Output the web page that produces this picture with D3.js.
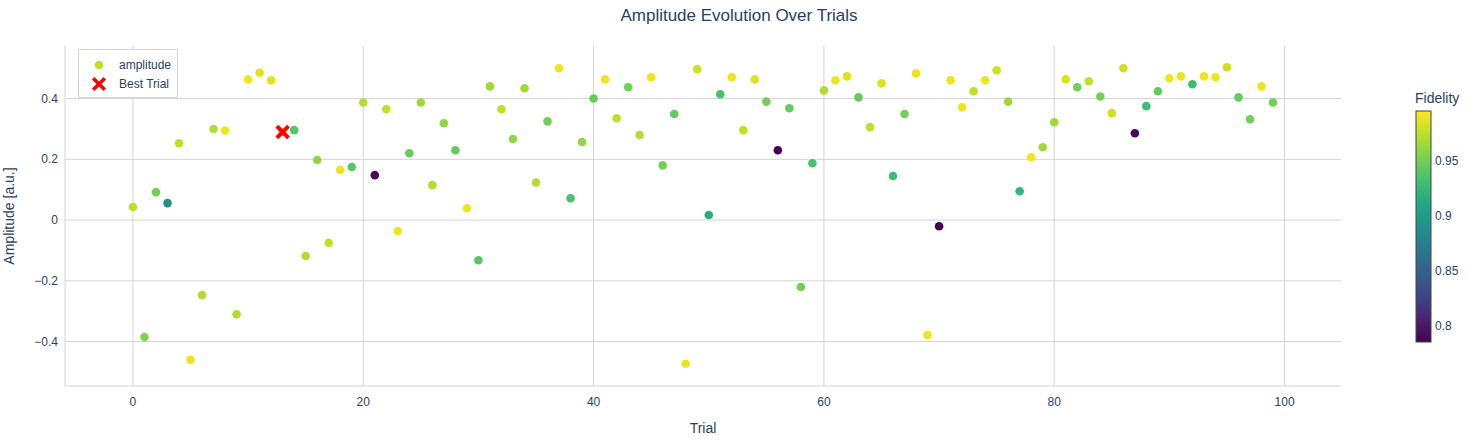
<!DOCTYPE html>
<html><head><meta charset="utf-8">
<script src="https://cdn.jsdelivr.net/npm/d3@7"></script>
<style>body{margin:0;background:#fff;font-family:"Liberation Sans",Arial,sans-serif;}</style>
</head><body><svg id="chart" width="1477" height="442"></svg>
<script>
// amplitude per trial (index = trial)
const amplitude = [0.043,-0.385,0.092,0.056,0.253,-0.46,-0.247,0.30,0.295,-0.31,
0.463,0.485,0.46,0.29,0.296,-0.118,0.198,-0.075,0.165,0.175,
0.387,0.148,0.365,-0.036,0.22,0.387,0.115,0.319,0.23,0.039,
-0.132,0.44,0.365,0.267,0.434,0.124,0.325,0.50,0.072,0.257,
0.40,0.463,0.335,0.437,0.28,0.47,0.18,0.349,-0.473,0.497,
0.017,0.414,0.47,0.296,0.463,0.39,0.23,0.368,-0.22,0.187,
0.427,0.46,0.473,0.404,0.306,0.45,0.145,0.349,0.483,-0.378,
-0.02,0.46,0.371,0.424,0.46,0.493,0.39,0.095,0.207,0.24,
0.322,0.463,0.437,0.457,0.407,0.352,0.50,0.286,0.375,0.424,
0.467,0.473,0.447,0.473,0.47,0.503,0.404,0.332,0.44,0.387];
const fidelity = [0.975,0.955,0.95,0.89,0.975,0.99,0.97,0.97,0.99,0.97,
0.99,0.985,0.985,0.995,0.94,0.97,0.96,0.975,0.99,0.94,
0.97,0.79,0.975,0.99,0.945,0.965,0.97,0.96,0.945,0.99,
0.94,0.965,0.975,0.96,0.965,0.97,0.95,0.99,0.935,0.96,
0.945,0.99,0.975,0.95,0.97,0.99,0.95,0.945,0.99,0.98,
0.915,0.935,0.99,0.975,0.985,0.95,0.785,0.945,0.95,0.935,
0.97,0.99,0.985,0.945,0.975,0.985,0.93,0.95,0.99,0.99,
0.785,0.99,0.99,0.975,0.99,0.98,0.965,0.925,0.99,0.965,
0.965,0.985,0.95,0.975,0.95,0.98,0.98,0.79,0.93,0.945,
0.99,0.99,0.93,0.99,0.99,0.98,0.945,0.95,0.99,0.95];
const bestTrial = 13;
const xTicks = [0,20,40,60,80,100];
const yTicks = [-0.4,-0.2,0,0.2,0.4];
const cTicks = [0.8,0.85,0.9,0.95];

const svg = d3.select("#chart");
const x = d3.scaleLinear().domain([-5.9,104.9]).range([65,1341]);
const y = d3.scaleLinear().domain([-0.546,0.573]).range([386,46]);
const color = d3.scaleSequential(d3.interpolateViridis).domain([0.785,0.995]);
const fmt = d => d === 0 ? "0" : d3.format(".1f")(d).replace("-", "\u2212");

// grid
svg.append("g").selectAll("line").data(xTicks).join("line")
  .attr("x1", d => x(d)).attr("x2", d => x(d)).attr("y1", 46).attr("y2", 386)
  .attr("stroke", "#d4d4d4");
svg.append("g").selectAll("line").data(yTicks).join("line")
  .attr("x1", 65).attr("x2", 1341).attr("y1", d => y(d)).attr("y2", d => y(d))
  .attr("stroke", "#d4d4d4");
svg.append("line").attr("x1",65).attr("x2",65).attr("y1",46).attr("y2",386).attr("stroke","#d4d4d4");
svg.append("line").attr("x1",65).attr("x2",1341).attr("y1",386).attr("y2",386).attr("stroke","#d4d4d4");

// tick labels
svg.append("g").selectAll("text").data(xTicks).join("text")
  .attr("x", d => x(d)).attr("y", 406).attr("text-anchor","middle")
  .attr("font-size",12).attr("fill","#2a3f5f").text(d => d);
svg.append("g").selectAll("text").data(yTicks).join("text")
  .attr("x", 58).attr("y", d => y(d) + 4).attr("text-anchor","end")
  .attr("font-size",12).attr("fill","#2a3f5f").text(fmt);

// points
svg.append("g").selectAll("circle").data(amplitude).join("circle")
  .attr("cx", (d,i) => x(i)).attr("cy", d => y(d)).attr("r", 4.3)
  .attr("fill", (d,i) => color(fidelity[i]));

// best trial marker
const cross = d3.symbol().type(d3.symbolX).size(90);
svg.append("path").attr("d", cross())
  .attr("transform", `translate(${x(bestTrial)},${y(amplitude[bestTrial])}) rotate(0)`)
  .attr("stroke","red").attr("stroke-width",4).attr("fill","none");

// titles
svg.append("text").attr("x",739).attr("y",21).attr("text-anchor","middle")
  .attr("font-size",17).attr("fill","#2a3f5f").text("Amplitude Evolution Over Trials");
svg.append("text").attr("x",703).attr("y",433).attr("text-anchor","middle")
  .attr("font-size",14).attr("fill","#2a3f5f").text("Trial");
svg.append("text").attr("transform","translate(14,216) rotate(-90)").attr("text-anchor","middle")
  .attr("font-size",14).attr("fill","#2a3f5f").text("Amplitude [a.u.]");

// legend
const lg = svg.append("g");
lg.append("rect").attr("x",78.5).attr("y",49.5).attr("width",99).attr("height",48)
  .attr("fill","#fff").attr("stroke","#d4d4d4");
lg.append("circle").attr("cx",99).attr("cy",65).attr("r",4.3).attr("fill",color(0.975));
lg.append("path").attr("d",cross()).attr("transform","translate(99,84)")
  .attr("stroke","red").attr("stroke-width",3.5).attr("fill","none");
lg.append("text").attr("x",119).attr("y",69).attr("font-size",12).attr("fill","#2a3f5f").text("amplitude");
lg.append("text").attr("x",119).attr("y",88).attr("font-size",12).attr("fill","#2a3f5f").text("Best Trial");

// colorbar
const cb = d3.scaleLinear().domain(color.domain()).range([342,111]);
const defs = svg.append("defs");
const grad = defs.append("linearGradient").attr("id","vg").attr("x1",0).attr("x2",0).attr("y1",1).attr("y2",0);
d3.range(0,1.01,0.1).forEach(t => grad.append("stop").attr("offset",t).attr("stop-color",d3.interpolateViridis(t)));
svg.append("rect").attr("x",1416).attr("y",111).attr("width",15).attr("height",231)
  .attr("fill","url(#vg)").attr("stroke","#444").attr("stroke-width",1);
svg.append("g").selectAll("text").data(cTicks).join("text")
  .attr("x",1435).attr("y",d => cb(d)+4).attr("font-size",12).attr("fill","#2a3f5f")
  .text(d => d3.format("")(d));
svg.append("text").attr("x",1415).attr("y",103).attr("font-size",14).attr("fill","#2a3f5f").text("Fidelity");
</script></body></html>
